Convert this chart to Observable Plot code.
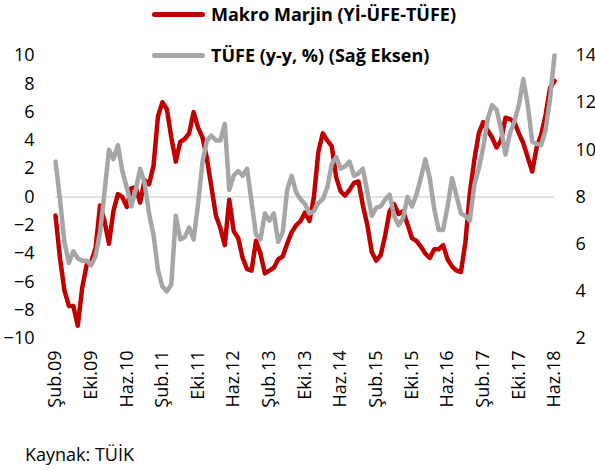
<!DOCTYPE html>
<html><head><meta charset="utf-8">
<script src="https://cdn.jsdelivr.net/npm/d3@7"></script>
<script src="https://cdn.jsdelivr.net/npm/@observablehq/plot@0.6"></script>
<style>
body{margin:0;background:#fff;font-family:"Open Sans",Lato,sans-serif;}
#wrap{position:relative;width:595px;height:470px;overflow:hidden}
.leg{position:absolute;left:152px;font-weight:bold;font-size:18px;color:#000;display:flex;align-items:center;line-height:20px;white-space:nowrap}
.sw{display:inline-block;width:53px;height:5px;margin-right:6px;border-radius:3px}
#cap{position:absolute;left:25px;top:443px;font-size:18px;line-height:22px;color:#000}
</style></head><body>
<div id="wrap">
<div id="chart"></div>
<div class="leg" style="top:4px"><span class="sw" style="background:#c00000"></span>Makro Marjin (Yİ-ÜFE-TÜFE)</div>
<div class="leg" style="top:45px"><span class="sw" style="background:#a6a6a6"></span>TÜFE (y-y, %) (Sağ Eksen)</div>
<div id="cap">Kaynak: TÜİK</div>
</div>
<script>
// Monthly, Şub.09 (Feb 2009) .. Haz.18 (Jun 2018)
const makroMarjin = [
 -1.3, -4.3, -6.6, -7.7, -7.7, -9.1, -6.4, -4.8, -4.6, -3.6,
 -0.6, -1.7, -3.3, -1.0, 0.2, 0.0, -0.7, 0.6, 0.7, -0.4,
 1.2, 0.9, 2.2, 5.7, 6.7, 6.2, 4.2, 2.5, 3.9, 4.1,
 4.5, 6.0, 4.9, 4.2, 2.7, 0.7, -1.3, -2.2, -3.4, -0.2,
 -2.4, -2.9, -4.3, -5.1, -5.2, -3.1, -4.0, -5.4, -5.2, -5.0,
 -4.4, -4.2, -3.3, -2.5, -2.0, -1.7, -1.1, -1.7, 0.0, 3.2,
 4.5, 4.0, 3.6, 1.4, 0.4, 0.1, 0.5, 1.0, 1.1, -0.6,
 -2.0, -3.9, -4.5, -4.1, -2.7, -1.0, -0.5, -1.2, -1.0, -1.9,
 -2.9, -3.1, -3.5, -4.0, -4.3, -3.7, -3.7, -3.4, -4.4, -4.9,
 -5.2, -5.3, -3.2, 0.3, 2.6, 4.5, 5.3, 4.7, 4.2, 3.5,
 4.0, 5.6, 5.5, 5.3, 4.5, 3.8, 2.8, 1.8, 3.5, 4.4,
 5.8, 7.7, 8.2
];
const tufe = [
 9.5, 7.9, 6.1, 5.2, 5.7, 5.4, 5.3, 5.3, 5.1, 5.5,
 6.5, 8.2, 10.0, 9.6, 10.2, 9.1, 8.4, 7.6, 8.3, 9.2,
 8.6, 7.3, 6.4, 4.9, 4.2, 4.0, 4.3, 7.2, 6.2, 6.3,
 6.7, 6.2, 7.7, 9.5, 10.4, 10.6, 10.4, 10.4, 11.1, 8.3,
 8.9, 9.1, 8.9, 9.2, 7.8, 6.4, 6.2, 7.3, 7.0, 7.3,
 6.1, 6.5, 8.3, 8.9, 8.2, 7.9, 7.7, 7.3, 7.4, 7.75,
 7.9, 8.4, 9.4, 9.7, 9.2, 9.3, 9.5, 8.9, 9.0, 9.2,
 8.2, 7.2, 7.55, 7.6, 7.9, 8.1, 7.2, 6.8, 7.1, 8.0,
 7.6, 8.1, 8.8, 9.6, 8.8, 7.5, 6.6, 6.6, 7.6, 8.8,
 8.05, 7.3, 7.2, 7.0, 8.5, 9.2, 10.1, 11.3, 11.9, 11.7,
 10.9, 9.8, 10.7, 11.2, 11.9, 13.0, 11.9, 10.35, 10.25, 10.2,
 10.85, 12.15, 14.0
];
const tickLabels = ["Şub.09","Eki.09","Haz.10","Şub.11","Eki.11","Haz.12","Şub.13","Eki.13","Haz.14","Şub.15","Eki.15","Haz.16","Şub.17","Eki.17","Haz.18"];
const leftTicks = [-10,-8,-6,-4,-2,0,2,4,6,8,10];
const rightTicks = [2,4,6,8,10,12,14];

const toLeft = v => (v - 8) * 20 / 12;
const fromLeft = v => Math.round(v * 12 / 20 + 8);
const tickIdx = tickLabels.map((_, k) => k * 8);

const chart = Plot.plot({
  width: 595, height: 420,
  marginTop: 55, marginBottom: 82, marginLeft: 55, marginRight: 41,
  style: {fontFamily: "'Open Sans', Lato, sans-serif", fontSize: "18px", color: "#000", background: "transparent"},
  x: {type: "linear", domain: [0, 112]},
  y: {domain: [-10, 10]},
  marks: [
    Plot.ruleY([0], {stroke: "#d9d9d9", strokeWidth: 1.5}),
    Plot.lineY(makroMarjin, {x: (d, i) => i, y: d => d, stroke: "#c00000", strokeWidth: 4.5, strokeLinejoin: "round"}),
    Plot.lineY(tufe, {x: (d, i) => i, y: d => toLeft(d), stroke: "#a6a6a6", strokeWidth: 4.5, strokeLinejoin: "round"}),
    Plot.axisY(leftTicks, {anchor: "left", tickSize: 0, tickPadding: 21, label: null, fontSize: 18}),
    Plot.axisY(rightTicks.map(toLeft), {anchor: "right", tickSize: 0, tickPadding: 21, label: null, fontSize: 18, tickFormat: fromLeft}),
    Plot.axisX(tickIdx, {anchor: "bottom", tickSize: 0, tickPadding: 12, tickRotate: -90, label: null, fontSize: 18, tickFormat: d => tickLabels[d / 8]})
  ]
});
document.getElementById("chart").appendChild(chart);
</script>
</body></html>
